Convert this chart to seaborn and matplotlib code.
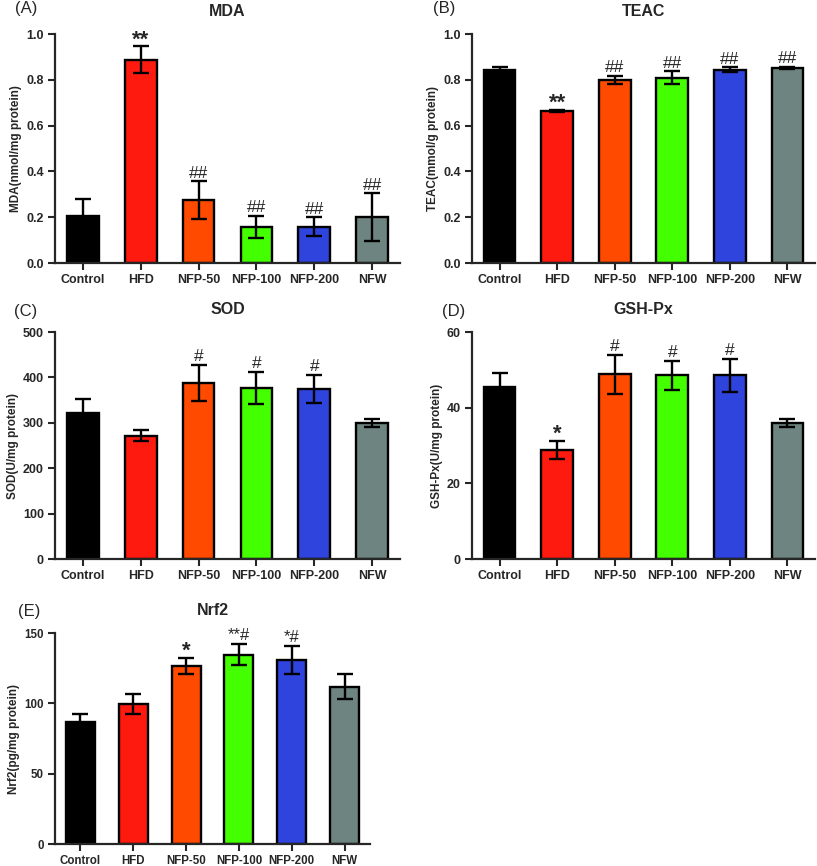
"""
Oxidative stress markers by treatment group, five bar panels (A-E).
"""
import matplotlib
matplotlib.use('Agg')
import matplotlib.pyplot as plt
import numpy as np
import pandas as pd
import seaborn as sns

groups = ['Control', 'HFD', 'NFP-50', 'NFP-100', 'NFP-200', 'NFW']
colors = ['#000000', '#FF1A10', '#FF4A00', '#44FF00', '#2E44DD', '#6E8480']

mda_mean = [0.207, 0.888, 0.274, 0.158, 0.158, 0.200]
mda_sem = [0.072, 0.058, 0.082, 0.047, 0.041, 0.104]
mda_sig = ['', '**', '##', '##', '##', '##']

teac_mean = [0.841, 0.664, 0.800, 0.810, 0.845, 0.853]
teac_sem = [0.014, 0.004, 0.017, 0.027, 0.010, 0.004]
teac_sig = ['', '**', '##', '##', '##', '##']

sod_mean = [321, 272, 388, 377, 375, 300]
sod_sem = [31, 13, 39, 35, 31, 9]
sod_sig = ['', '', '#', '#', '#', '']

gsh_mean = [45.5, 28.8, 48.8, 48.6, 48.6, 35.9]
gsh_sem = [3.6, 2.4, 5.1, 3.8, 4.4, 1.0]
gsh_sig = ['', '*', '#', '#', '#', '']

nrf_mean = [86.4, 99.7, 126.7, 134.6, 130.8, 111.8]
nrf_sem = [6.2, 7.1, 5.7, 7.6, 10.2, 9.0]
nrf_sig = ['', '', '*', '**#', '*#', '']


def draw_panel(ax, means, sems, sig, title, letter, ylabel, ymax, step, fmt,
               letter_xy, tick_size=9):
    """Bar chart with error bars and significance marks."""
    df = pd.DataFrame({'group': groups, 'value': means})
    sns.barplot(data=df, x='group', y='value', hue='group', palette=colors,
                saturation=1, width=0.55, edgecolor='black', linewidth=1.7,
                legend=False, ax=ax, errorbar=None)
    pos = np.arange(len(groups))
    ax.errorbar(pos, means, yerr=sems, fmt='none', ecolor='black',
                elinewidth=1.7, capsize=5.5, capthick=1.7, zorder=5)
    for x, m, s, t in zip(pos, means, sems, sig):
        if not t:
            continue
        if '#' not in t:
            ax.annotate(t, (x, m + s), xytext=(0, -3),
                        textcoords='offset points', ha='center', va='bottom',
                        fontsize=16, fontweight='bold')
        elif '*' not in t:
            ax.annotate(t, (x, m + s), xytext=(0, 0.5),
                        textcoords='offset points', ha='center', va='bottom',
                        fontsize=12.5)
        else:
            ax.annotate(t, (x, m + s), xytext=(0, 0.5),
                        textcoords='offset points', ha='center', va='bottom',
                        fontsize=12)
    ax.set_ylim(0, ymax)
    ax.set_xlim(-0.48, len(groups) - 0.52)
    ax.set_yticks(np.arange(0, ymax + step / 2, step))
    ax.yaxis.set_major_formatter(matplotlib.ticker.FormatStrFormatter(fmt))
    ax.set_xlabel('')
    ax.set_ylabel(ylabel, fontsize=8.5, fontweight='bold', labelpad=3)
    ax.set_title(title, fontsize=11.5, fontweight='bold', pad=13)
    ax.text(letter_xy[0], letter_xy[1], letter, transform=ax.transAxes,
            fontsize=12, ha='left', va='center')
    for lab in ax.get_xticklabels() + ax.get_yticklabels():
        lab.set_fontweight('bold')
        lab.set_fontsize(tick_size)
    ax.tick_params(width=1.5, length=5, direction='out', pad=3)
    sns.despine(ax=ax)
    for sp in ('left', 'bottom'):
        ax.spines[sp].set_linewidth(1.6)


def main():
    sns.set_style('ticks')
    plt.rcParams['font.family'] = ['Liberation Sans', 'DejaVu Sans']
    fig = plt.figure(figsize=(8.17, 8.66), dpi=100)
    ax_a = fig.add_axes([0.0673, 0.6963, 0.4223, 0.2644])
    ax_b = fig.add_axes([0.5777, 0.6963, 0.4199, 0.2644])
    ax_c = fig.add_axes([0.0673, 0.3545, 0.4223, 0.2621])
    ax_d = fig.add_axes([0.5777, 0.3545, 0.4199, 0.2621])
    ax_e = fig.add_axes([0.0673, 0.0254, 0.3856, 0.2436])

    draw_panel(ax_a, mda_mean, mda_sem, mda_sig, 'MDA', '(A)',
               'MDA(nmol/mg protein)', 1.0, 0.2, '%.1f', (-0.116, 1.113))
    draw_panel(ax_b, teac_mean, teac_sem, teac_sig, 'TEAC', '(B)',
               'TEAC(mmol/g protein)', 1.0, 0.2, '%.1f', (-0.114, 1.113))
    draw_panel(ax_c, sod_mean, sod_sem, sod_sig, 'SOD', '(C)',
               'SOD(U/mg protein)', 500, 100, '%d', (-0.12, 1.09))
    draw_panel(ax_d, gsh_mean, gsh_sem, gsh_sig, 'GSH-Px', '(D)',
               'GSH-Px(U/mg protein)', 60, 20, '%d', (-0.088, 1.09))
    draw_panel(ax_e, nrf_mean, nrf_sem, nrf_sig, 'Nrf2', '(E)',
               'Nrf2(pg/mg protein)', 150, 50, '%d', (-0.117, 1.10),
               tick_size=8.3)

    fig.savefig('out.png', dpi=100)
    plt.close(fig)


if __name__ == '__main__':
    main()
